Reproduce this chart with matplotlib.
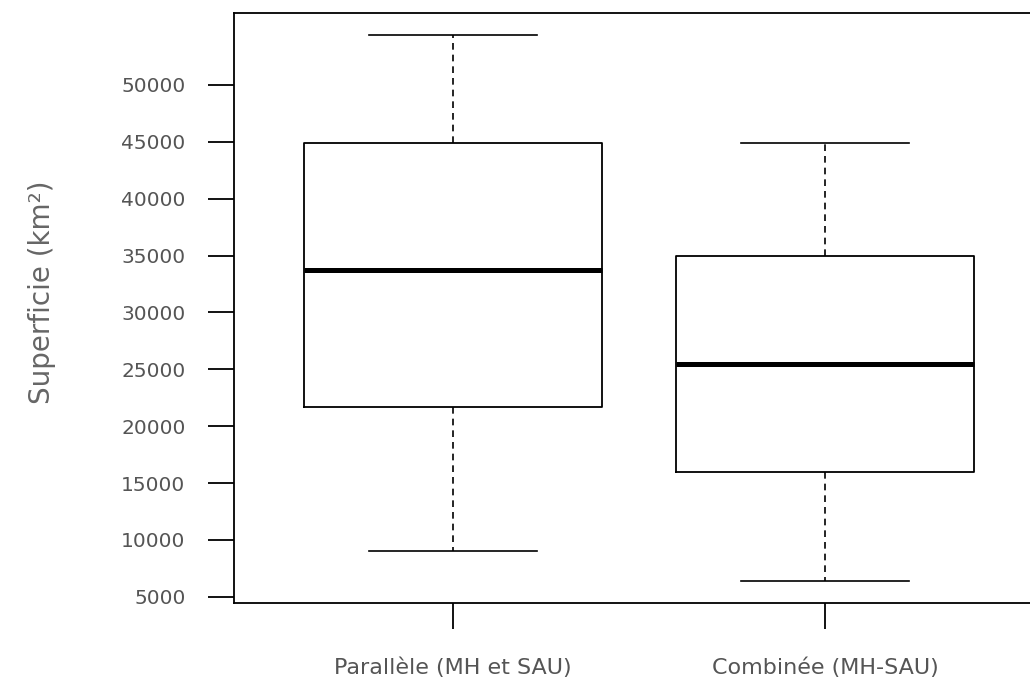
import matplotlib
matplotlib.use("Agg")
import matplotlib.pyplot as plt

categories = ["Parallèle (MH et SAU)", "Combinée (MH-SAU)"]
whisker_low = [9000, 6380]
q1 = [21650, 15950]
median = [33700, 25430]
q3 = [44900, 35000]
whisker_high = [54400, 44900]
yticks = [5000, 10000, 15000, 20000, 25000, 30000, 35000, 40000, 45000, 50000]

plt.rcParams['font.family'] = ['DejaVu Sans']

fig = plt.figure(figsize=(10.30, 6.91), dpi=100)
ax = fig.add_axes([234/1030, 88/691, (1044-234)/1030, (603-13)/691])

stats = []
for i, lab in enumerate(categories):
    stats.append(dict(label=lab, whislo=whisker_low[i], q1=q1[i], med=median[i],
                      q3=q3[i], whishi=whisker_high[i], fliers=[]))

ax.bxp(stats, positions=[1, 2], widths=0.8, capwidths=0.45, showfliers=False,
       boxprops=dict(color='black', linewidth=1.3),
       medianprops=dict(color='black', linewidth=3.6, solid_capstyle='butt'),
       whiskerprops=dict(color='black', linewidth=1.2, linestyle=(0, (4, 3))),
       capprops=dict(color='black', linewidth=1.2))

ax.set_xlim(0.411, 2.589)
ax.set_ylim(4459, 56321)
ax.set_yticks(yticks)
ax.set_yticklabels([str(v) for v in yticks])
ax.set_xticks([1, 2])
ax.set_xticklabels(categories)

for s in ['left', 'top', 'bottom']:
    ax.spines[s].set_linewidth(1.3)
    ax.spines[s].set_color('black')
ax.spines['right'].set_visible(False)

ax.tick_params(axis='y', length=19, width=1.3, pad=16, labelsize=14.5, labelcolor='#555555')
ax.tick_params(axis='x', length=19, width=1.3, pad=20, labelsize=16, labelcolor='#555555')

ax.set_ylabel("Superficie (km²)", fontsize=20, color='#666666')
ax.yaxis.set_label_coords(-0.22, 0.527)

fig.savefig("out.png", dpi=100)
